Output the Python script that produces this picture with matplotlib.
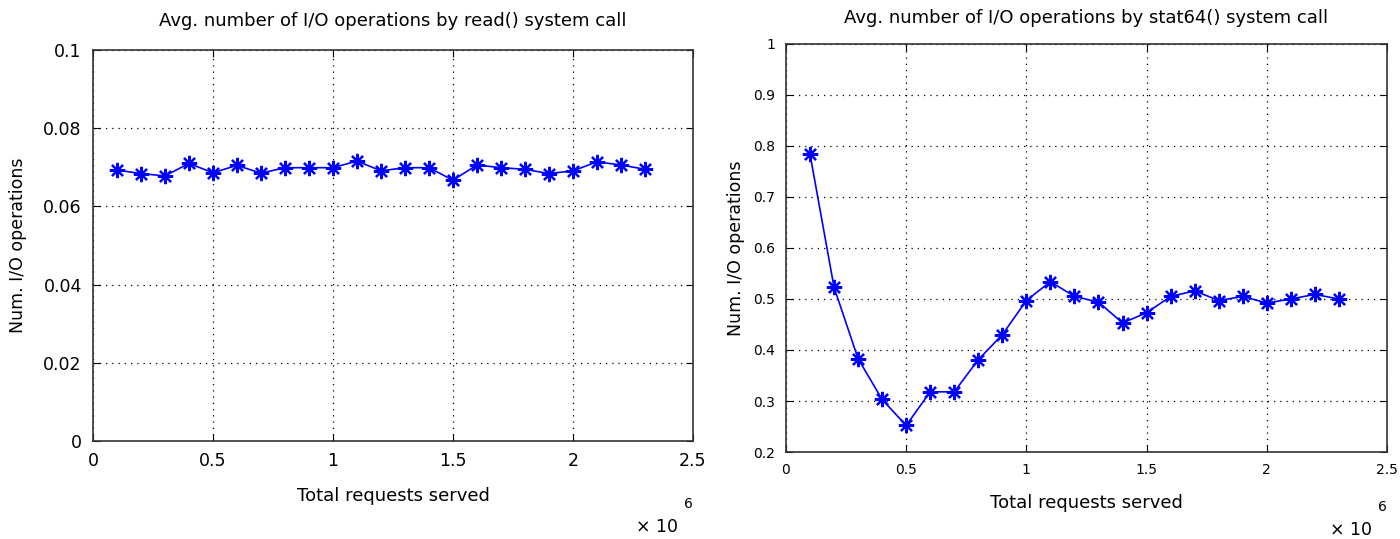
import numpy as np
import matplotlib
matplotlib.use("Agg")
import matplotlib.pyplot as plt

# requests served (x 1e6)
requests = [0.1, 0.2, 0.3, 0.4, 0.5, 0.6, 0.7, 0.8, 0.9, 1.0, 1.1, 1.2,
            1.3, 1.4, 1.5, 1.6, 1.7, 1.8, 1.9, 2.0, 2.1, 2.2, 2.3]

# avg I/O ops by read()
read_ops = [0.0693, 0.0684, 0.0678, 0.0710, 0.0686, 0.0705, 0.0685, 0.0699,
            0.0699, 0.0699, 0.0716, 0.0691, 0.0699, 0.0699, 0.0667, 0.0706,
            0.0699, 0.0695, 0.0684, 0.0691, 0.0714, 0.0706, 0.0695]

# avg I/O ops by stat64()
stat_ops = [0.784, 0.523, 0.383, 0.303, 0.252, 0.318, 0.318, 0.381, 0.430,
            0.497, 0.534, 0.505, 0.494, 0.453, 0.473, 0.505, 0.516, 0.497,
            0.505, 0.492, 0.500, 0.509, 0.500]

x = np.array(requests) * 1e6

fig = plt.figure(figsize=(14, 5.39), dpi=100)
ax1 = fig.add_axes([0.0664, 0.1818, 0.4286, 0.7254])
ax2 = fig.add_axes([0.5614, 0.1614, 0.4293, 0.757])


def style(ax, data, fs, ylpad):
    # matlab-like asterisk marker
    ax.plot(x, data, color="blue", marker=(8, 2, 0), markersize=11, lw=1.2,
            markeredgewidth=1.6)
    ax.grid(True, color="black", linestyle=(0, (1, 4)), lw=0.9)
    ax.tick_params(direction="in", length=5, labelsize=fs, top=True,
                   right=True, labeltop=False, labelright=False, pad=8)
    for s in ax.spines.values():
        s.set_linewidth(1.2)
        s.set_color("#333333")
    ax.set_xlim(0, 2.5e6)
    ax.set_xticks(np.arange(0, 2.51e6, 0.5e6))
    ax.set_xticklabels(["0", "0.5", "1", "1.5", "2", "2.5"])
    ax.set_xlabel("Total requests served", fontsize=13, labelpad=12)
    ax.set_ylabel("Num. I/O operations", fontsize=12.5, labelpad=ylpad)


style(ax1, read_ops, 12.5, 12)
ax1.set_ylim(0, 0.1)
ax1.set_yticks([0, 0.02, 0.04, 0.06, 0.08, 0.1])
ax1.set_yticklabels(["0", "0.02", "0.04", "0.06", "0.08", "0.1"])
ax1.set_title("Avg. number of I/O operations by read() system call",
              fontsize=13, pad=17)
ax1.text(0.985, -0.16, "6", transform=ax1.transAxes, fontsize=10,
         ha="left", va="center")
ax1.text(0.975, -0.22, "\u00d7 10", transform=ax1.transAxes, fontsize=12.5,
         ha="right", va="center")

style(ax2, stat_ops, 10, 6)
ax2.set_ylim(0.2, 1)
ax2.set_yticks(np.arange(0.2, 1.01, 0.1))
ax2.set_yticklabels(["0.2", "0.3", "0.4", "0.5", "0.6", "0.7", "0.8", "0.9", "1"])
ax2.set_title("Avg. number of I/O operations by stat64() system call",
              fontsize=13, pad=15)
ax2.text(0.985, -0.135, "6", transform=ax2.transAxes, fontsize=10,
         ha="left", va="center")
ax2.text(0.975, -0.19, "\u00d7 10", transform=ax2.transAxes, fontsize=12.5,
         ha="right", va="center")

fig.savefig("out.png", dpi=100)
